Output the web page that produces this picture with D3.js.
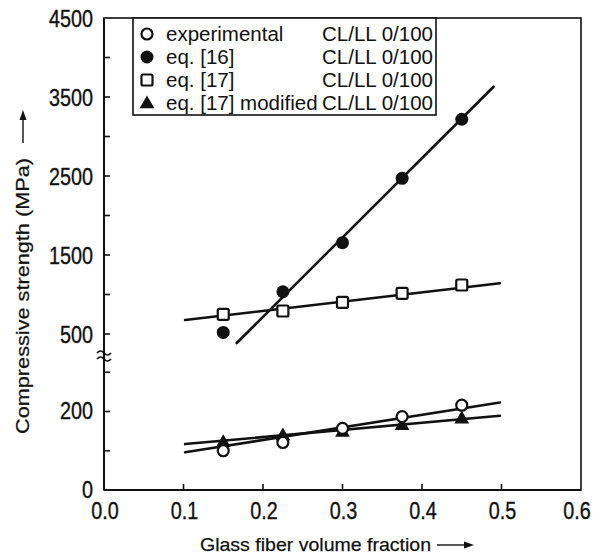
<!DOCTYPE html>
<html>
<head>
<meta charset="utf-8">
<script src="https://cdn.jsdelivr.net/npm/d3@7"></script>
<style>
  html, body { margin: 0; padding: 0; background: #fff; }
  svg { display: block; }
  .tick-label { font-family: "Liberation Sans", Arial, sans-serif; font-size: 23px; fill: #111; stroke: #111; stroke-width: 0.35px; }
  .axis-title { font-family: "Liberation Sans", Arial, sans-serif; font-size: 19px; fill: #111; stroke: #111; stroke-width: 0.25px; }
  .legend-text { font-family: "Liberation Sans", Arial, sans-serif; font-size: 20.5px; fill: #111; }
</style>
</head>
<body>
<div id="chart"></div>
<script>
// ---------------- data ----------------
const xValues = [0.15, 0.225, 0.3, 0.375, 0.45];
const experimental = [100, 121, 157, 187, 216];      // lower panel
const eq16 = [520, 1035, 1656, 2471, 3218];           // upper panel
const eq17 = [749, 791, 901, 1015, 1120];             // upper panel
const eq17modified = [123, 140, 149, 166, 183];       // lower panel

// fitted lines (end points)
const fitEq16X = [0.167, 0.49],  fitEq16Y = [386, 3630];
const fitEq17X = [0.102, 0.498], fitEq17Y = [677, 1142];
const fitExpX = [0.102, 0.498],  fitExpY = [96, 223];
const fitModX = [0.102, 0.498],  fitModY = [117, 189];

const xTicks = [0.0, 0.1, 0.2, 0.3, 0.4, 0.5, 0.6];
const yHighLabels = [500, 1500, 2500, 3500, 4500];
const yHighTicks = [500, 1000, 1500, 2000, 2500, 3000, 3500, 4000];
const yLowLabels = [0, 200];
const yLowTicks = [100, 200, 300];

const legendLabels = ["experimental", "eq. [16]", "eq. [17]", "eq. [17] modified"];
const legendSuffix = "CL/LL 0/100";

// ---------------- layout ----------------
const W = 594, H = 555;
const L = 104, R = 581, T = 18, B = 490;
const SX = 0.86; // horizontal condensing of tick labels

const svg = d3.select("#chart").append("svg").attr("width", W).attr("height", H);

const x = d3.scaleLinear().domain([0, 0.6]).range([L, R]);
const yLow = d3.scaleLinear().domain([0, 400]).range([B, 333]);
const yHigh = d3.scaleLinear().domain([500, 4500]).range([334, T]);

const ink = "#111";

// frame
svg.append("rect").attr("x", L).attr("y", T).attr("width", R - L).attr("height", B - T)
  .attr("fill", "none").attr("stroke", ink).attr("stroke-width", 1.6);
svg.append("line").attr("x1", L).attr("x2", L).attr("y1", T).attr("y2", B)
  .attr("stroke", ink).attr("stroke-width", 2);
svg.append("line").attr("x1", L).attr("x2", R).attr("y1", B).attr("y2", B)
  .attr("stroke", ink).attr("stroke-width", 2);

// x ticks (inside)
svg.append("g").selectAll("line").data(xTicks.slice(1, -1)).join("line")
  .attr("x1", d => x(d)).attr("x2", d => x(d)).attr("y1", B).attr("y2", B - 6)
  .attr("stroke", ink).attr("stroke-width", 1.6);
svg.append("g").selectAll("text").data(xTicks).join("text")
  .attr("class", "tick-label")
  .attr("transform", (d, i) => `translate(${i === xTicks.length - 1 ? x(d) - 4 : x(d) + 1},${B + 29}) scale(${SX},1)`)
  .attr("text-anchor", "middle").text(d => d.toFixed(1));

// y ticks upper
svg.append("g").selectAll("line").data(yHighTicks).join("line")
  .attr("x1", L).attr("x2", L + 6).attr("y1", d => yHigh(d)).attr("y2", d => yHigh(d))
  .attr("stroke", ink).attr("stroke-width", 1.6);
svg.append("g").selectAll("text").data(yHighLabels).join("text")
  .attr("class", "tick-label")
  .attr("transform", d => `translate(${L - 11},${yHigh(d) + 8.5}) scale(${SX},1)`)
  .attr("text-anchor", "end").text(d => d);
// y ticks lower
svg.append("g").selectAll("line").data(yLowTicks).join("line")
  .attr("x1", L).attr("x2", L + 6).attr("y1", d => yLow(d)).attr("y2", d => yLow(d))
  .attr("stroke", ink).attr("stroke-width", 1.6);
svg.append("g").selectAll("text").data(yLowLabels).join("text")
  .attr("class", "tick-label")
  .attr("transform", d => `translate(${L - 11},${yLow(d) + 7.5}) scale(${SX},1)`)
  .attr("text-anchor", "end").text(d => d);

// axis break mark
[352, 358].forEach(yy => {
  svg.append("path")
    .attr("d", `M${L - 7},${yy + 1} q3.5,-4 7,0 t7,0`)
    .attr("fill", "none").attr("stroke", ink).attr("stroke-width", 1.6);
});

// axis titles
svg.append("text").attr("class", "axis-title").attr("x", 200).attr("y", 551)
  .attr("textLength", 231).attr("lengthAdjust", "spacingAndGlyphs").text("Glass fiber volume fraction");
svg.append("line").attr("x1", 437).attr("x2", 466).attr("y1", 545).attr("y2", 545).attr("stroke", ink).attr("stroke-width", 1.4);
svg.append("path").attr("d", "M474,545 L464,541.5 L464,548.5 Z").attr("fill", ink);

svg.append("text").attr("class", "axis-title")
  .attr("transform", "translate(29,434) rotate(-90)")
  .attr("textLength", 276).attr("lengthAdjust", "spacingAndGlyphs").text("Compressive strength (MPa)");
svg.append("line").attr("x1", 23).attr("x2", 23).attr("y1", 143).attr("y2", 118).attr("stroke", ink).attr("stroke-width", 1.4);
svg.append("path").attr("d", "M23,110 L19.5,120 L26.5,120 Z").attr("fill", ink);

// fit lines
const fits = [
  { xs: fitEq16X, ys: fitEq16Y, s: yHigh },
  { xs: fitEq17X, ys: fitEq17Y, s: yHigh },
  { xs: fitExpX, ys: fitExpY, s: yLow },
  { xs: fitModX, ys: fitModY, s: yLow }
];
fits.forEach(f => {
  svg.append("line")
    .attr("x1", x(f.xs[0])).attr("y1", f.s(f.ys[0]))
    .attr("x2", x(f.xs[1])).attr("y2", f.s(f.ys[1]))
    .attr("stroke", ink).attr("stroke-width", 2.6).attr("stroke-linecap", "round");
});

// markers
function drawMarker(g, type, cx, cy) {
  if (type === "openCircle") {
    g.append("circle").attr("cx", cx).attr("cy", cy).attr("r", 5.5)
      .attr("fill", "#fff").attr("stroke", ink).attr("stroke-width", 2.2);
  } else if (type === "filledCircle") {
    g.append("circle").attr("cx", cx).attr("cy", cy).attr("r", 6.5).attr("fill", ink);
  } else if (type === "openSquare") {
    g.append("rect").attr("x", cx - 5.5).attr("y", cy - 5.5).attr("width", 11).attr("height", 11)
      .attr("rx", 1.5).attr("fill", "#fff").attr("stroke", ink).attr("stroke-width", 2.2);
  } else if (type === "triangle") {
    g.append("path").attr("d", d3.symbol().type(d3.symbolTriangle).size(95)()).attr("transform", `translate(${cx},${cy + 1})`)
      .attr("fill", ink);
  }
}
const series = [
  { vals: eq17modified, s: yLow, type: "triangle" },
  { vals: experimental, s: yLow, type: "openCircle" },
  { vals: eq17, s: yHigh, type: "openSquare" },
  { vals: eq16, s: yHigh, type: "filledCircle" }
];
const mg = svg.append("g");
series.forEach(se => {
  se.vals.forEach((v, i) => drawMarker(mg, se.type, x(xValues[i]), se.s(v)));
});

// legend
const lg = svg.append("g");
lg.append("rect").attr("x", 133).attr("y", T).attr("width", 303).attr("height", 97)
  .attr("fill", "#fff").attr("stroke", ink).attr("stroke-width", 1.6);
const legendTypes = ["openCircle", "filledCircle", "openSquare", "triangle"];
legendLabels.forEach((lab, i) => {
  const cy = 34 + i * 23;
  drawMarker(lg, legendTypes[i], 147, cy);
  lg.append("text").attr("class", "legend-text").attr("x", 166).attr("y", cy + 7).text(lab);
  lg.append("text").attr("class", "legend-text").attr("x", 433).attr("y", cy + 7)
    .attr("text-anchor", "end").text(legendSuffix);
});
</script>
</body>
</html>
